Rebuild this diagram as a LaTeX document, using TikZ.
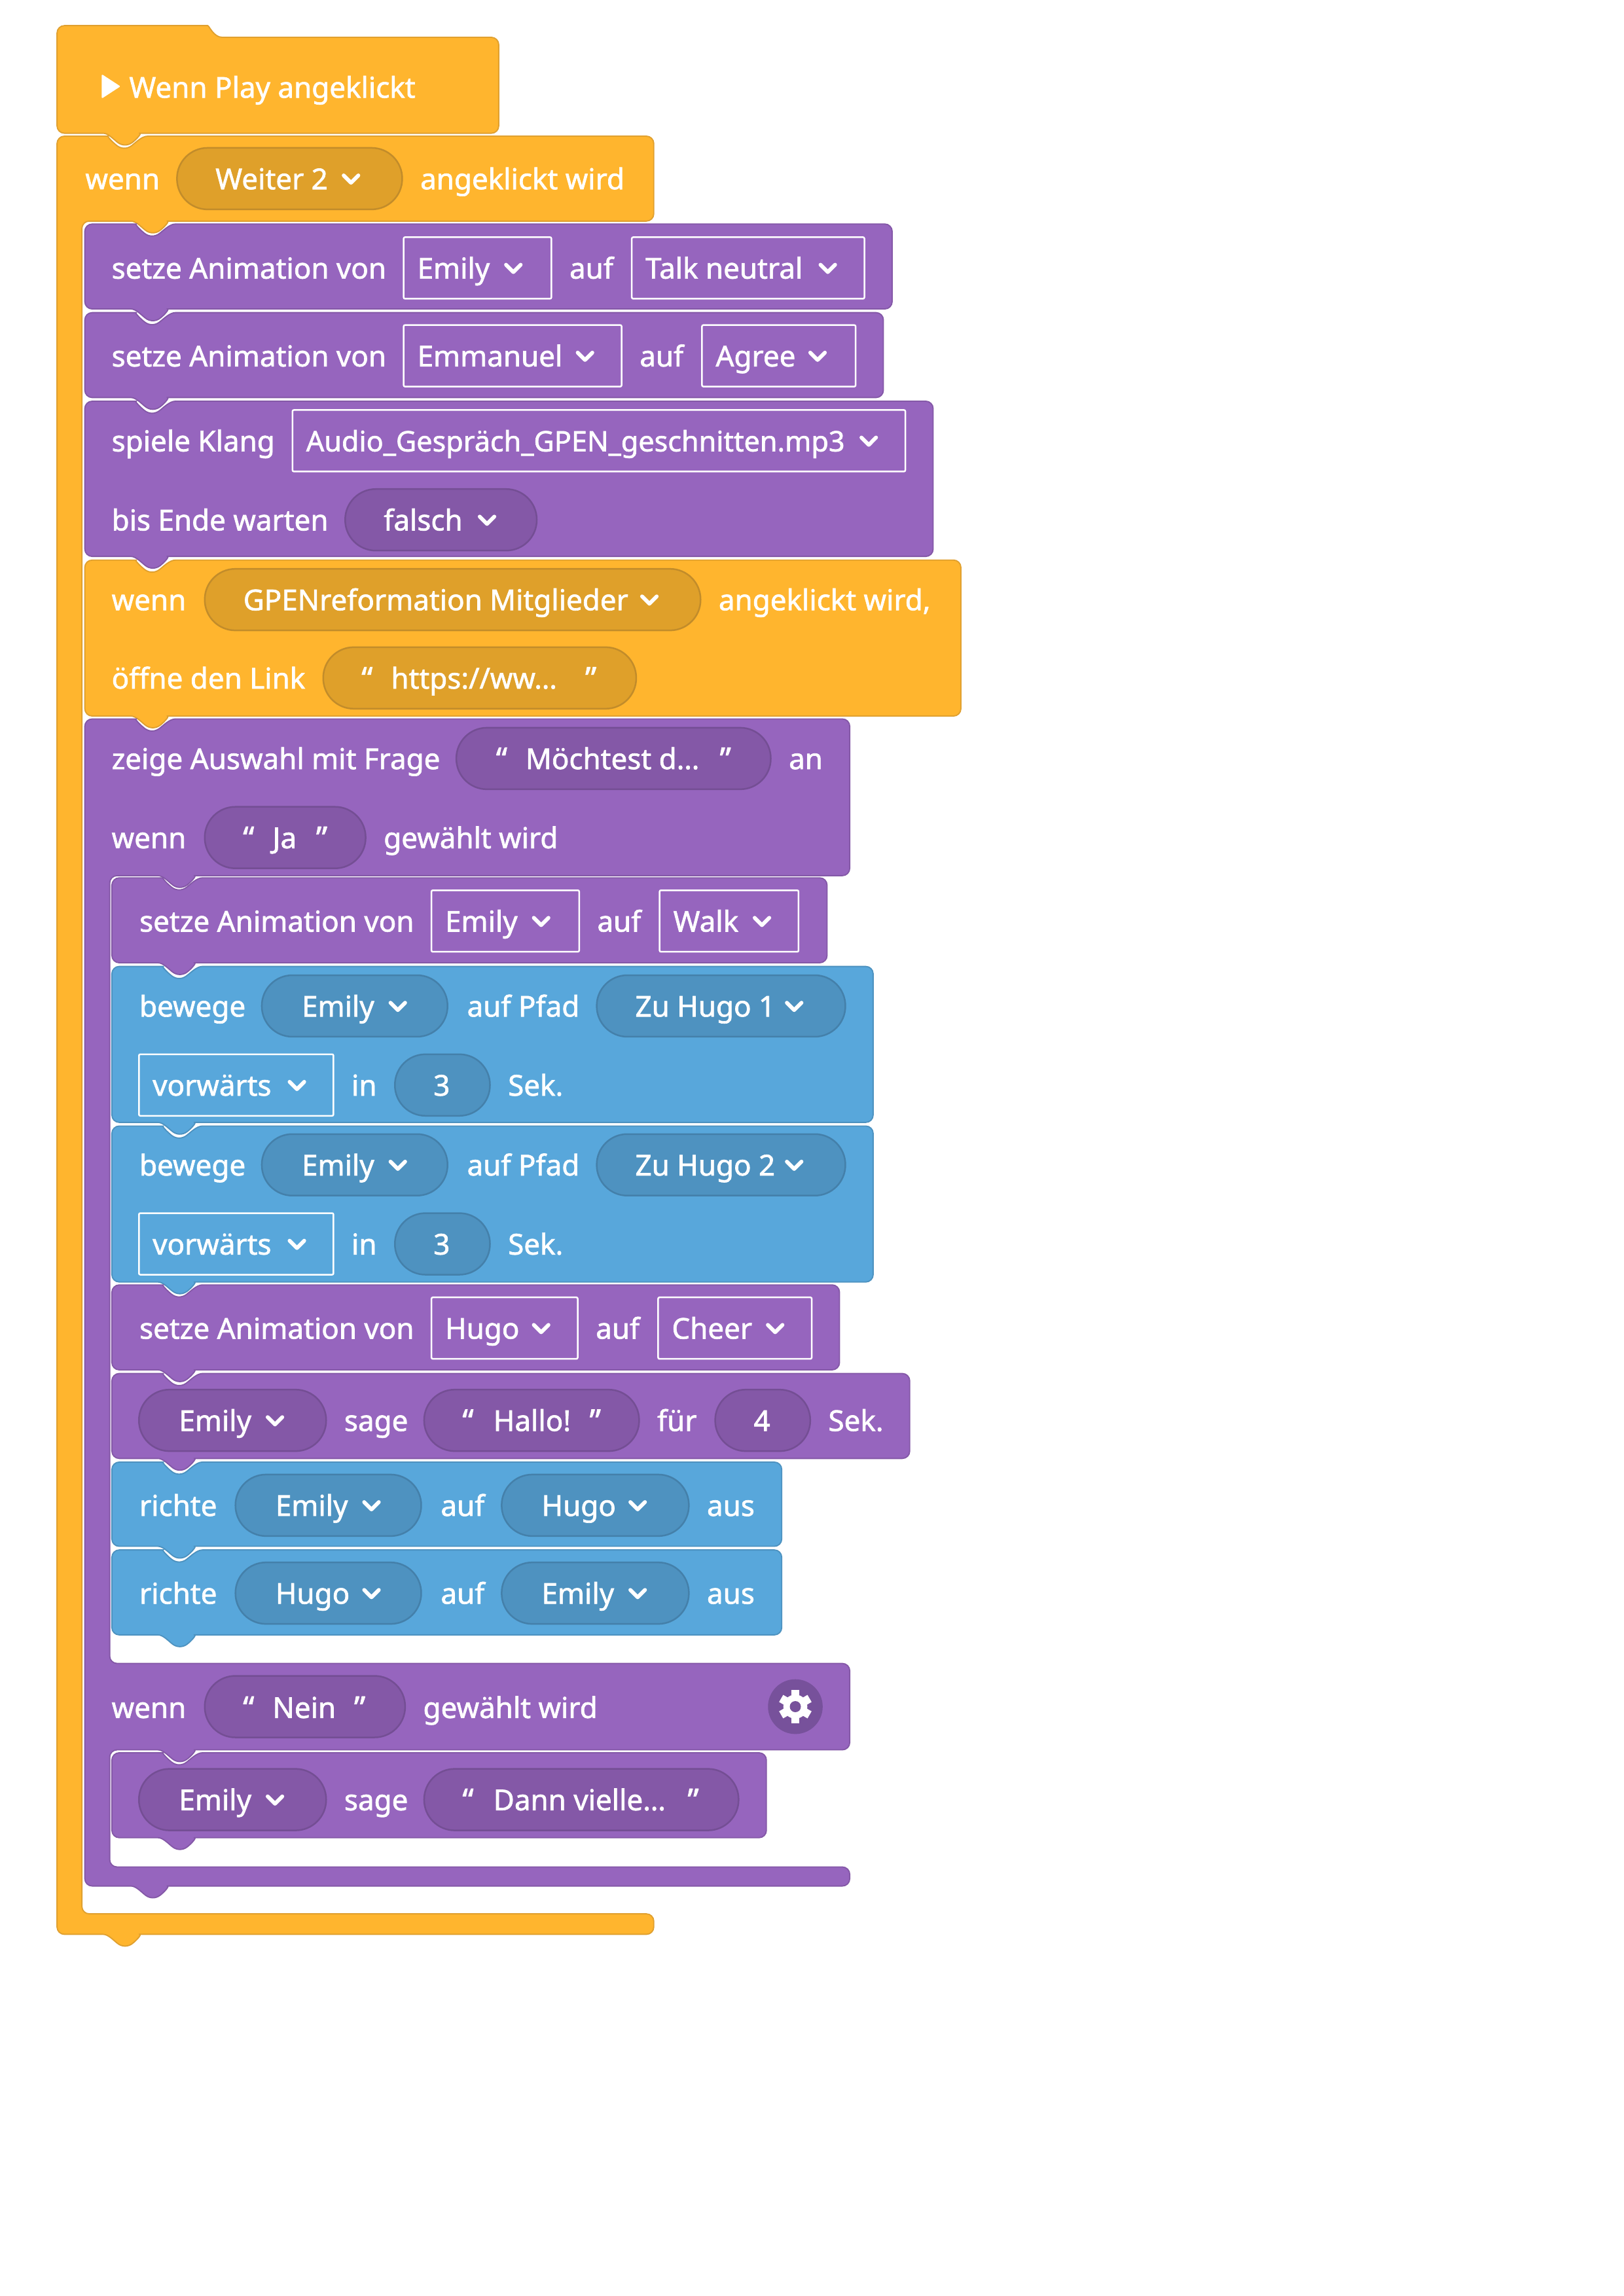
\documentclass[tikz,border=0pt]{standalone}
\usepackage{fontspec}
\setmainfont[FakeBold=1.5]{Noto Sans}
\definecolor{hatY}{HTML}{FFB52E}
\definecolor{hatYd}{HTML}{E0A02F}
\definecolor{pillYf}{HTML}{DFA02A}
\definecolor{pillYd}{HTML}{C28C2A}
\definecolor{blkP}{HTML}{9665BE}
\definecolor{blkPd}{HTML}{8458A7}
\definecolor{pillPf}{HTML}{8458A7}
\definecolor{pillPd}{HTML}{744E94}
\definecolor{blkB}{HTML}{58A7DB}
\definecolor{blkBd}{HTML}{4D92C0}
\definecolor{pillBf}{HTML}{4E92C0}
\definecolor{pillBd}{HTML}{4480AA}
\definecolor{gearbg}{HTML}{77519B}
\tikzset{
  yellowblk/.style={fill=hatY,draw=hatYd,line width=0.45pt,rounded corners=2.7pt},
  purpleblk/.style={fill=blkP,draw=blkPd,line width=0.45pt,rounded corners=2.7pt},
  blueblk/.style={fill=blkB,draw=blkBd,line width=0.45pt,rounded corners=2.7pt},
  pillY/.style={fill=pillYf,draw=pillYd,line width=0.6pt,rounded corners=11.2pt},
  pillP/.style={fill=pillPf,draw=pillPd,line width=0.6pt,rounded corners=11.2pt},
  pillB/.style={fill=pillBf,draw=pillBd,line width=0.6pt,rounded corners=11.2pt},
  fieldbox/.style={draw=white,line width=0.6pt,rounded corners=0.5pt},
  chev/.style={draw=white,line width=1.4pt,line cap=round,line join=round},
  lbl/.style={anchor=base west,inner sep=0pt,text=white,font=\fontsize{10.55}{12}\selectfont,yshift=-3.9pt},
  quo/.style={anchor=base,inner sep=0pt,text=white,font=\fontsize{11.5}{12}\selectfont,yshift=-4.2pt}
}
% Kerbe oben (nach rechts) und Nase unten (nach links)
\def\notchR{[sharp corners] .. controls +(4,0) and +(-3,-2.3) .. ++(11,6.5) .. controls +(3,2.3) and +(-3,2.3) .. ++(10,0) .. controls +(3,-2.3) and +(-4,0) .. ++(11,-6.5) -- ++(0.5,0) [rounded corners=2.7pt]}
\def\notchL{[sharp corners] .. controls +(-3.5,0) and +(3,-2.3) .. ++(-10,6.3) .. controls +(-3,2.3) and +(3,2.3) .. ++(-10,0) .. controls +(-3,-2.3) and +(3.5,0) .. ++(-10,-6.3) -- ++(-0.5,0) [rounded corners=2.7pt]}
\newcommand{\stackblk}[5]{%
  \draw[#1] (#2,{#3+20}) -- (#2,#3) -- ({#2+30},#3) \notchR -- (#4,#3) -- (#4,#5) -- ({#2+61.5},#5) \notchL -- (#2,#5) -- cycle;}
\begin{document}
\begin{tikzpicture}[x=0.5363pt,y=-0.537pt]
  \useasboundingbox (0,0) rectangle (1110,1568);
  % Startblock
  \draw[yellowblk] (39,50) -- (39,17.5) -- (137,17.5) [sharp corners] .. controls +(6,0) and +(-6,0) .. (152,25.5) -- ++(0.5,0) [rounded corners=2.7pt] -- (341,25.5) -- (341,91) -- (100.5,91) \notchL -- (39,91) -- cycle;
  \draw[fill=white,draw=white,line join=round,line width=0.5pt] (70,51.5) -- (81.5,59) -- (70,66.5) -- cycle;
  % aeussere Klammer
  \draw[yellowblk] (39,120) -- (39,93) -- (69,93) \notchR -- (447,93) -- (447,151) -- (119.5,151) \notchL -- (56,151) -- (56,1307) -- (447,1307) -- (447,1321) -- (100.5,1321) \notchL -- (39,1321) -- cycle;
  % Stapel
  \stackblk{purpleblk}{58}{153}{610}{211}
  \stackblk{purpleblk}{58}{213.5}{604}{271.5}
  \stackblk{purpleblk}{58}{274}{638}{380}
  \stackblk{yellowblk}{58}{382.5}{657}{489}
  % Auswahl mit zwei Armen
  \draw[purpleblk] (58,520) -- (58,491) -- (88,491) \notchR -- (581,491) -- (581,598) -- (138,598) \notchL -- (75,598) -- (75,1136) -- (581,1136) -- (581,1195) -- (138,1195) \notchL -- (75,1195) -- (75,1275) -- (581,1275) -- (581,1288) -- (119.5,1288) \notchL -- (58,1288) -- cycle;
  \stackblk{purpleblk}{76.5}{599.5}{565.5}{657.5}
  \stackblk{blueblk}{76.5}{660}{597}{766.5}
  \stackblk{blueblk}{76.5}{769}{597}{875.5}
  \stackblk{purpleblk}{76.5}{877.5}{574}{935.5}
  \stackblk{purpleblk}{76.5}{938}{622}{996}
  \stackblk{blueblk}{76.5}{998.5}{534.5}{1056}
  \stackblk{blueblk}{76.5}{1058.5}{534.5}{1116.5}
  \stackblk{purpleblk}{76.5}{1197}{524}{1255}
  % Felder
  \foreach \a/\b/\y in {121/275/122, 140/479/409.5, 221/435/463}
    \draw[pillY] (\a,\y-21) rectangle (\b,\y+21);
  \foreach \a/\b/\y in {236/367/355, 312/527/518, 140/250/572, 95/223/970, 290/437/970, 489/554/970, 140/277/1165.5, 95/223/1229, 290/505/1229}
    \draw[pillP] (\a,\y-21) rectangle (\b,\y+21);
  \foreach \a/\b/\y in {179/306/687, 408/578/687, 270/335/741, 179/306/795.5, 408/578/795.5, 270/335/849.5, 161/288/1028, 343/471/1028, 161/288/1088, 343/471/1088}
    \draw[pillB] (\a,\y-21) rectangle (\b,\y+21);
  \foreach \a/\b/\y in {276/377/183, 432/591/183, 276/425/243, 480/585/243, 200/619/301, 295/396/629, 451/546/629, 95/228/741, 95/228/849.5, 295/395/907, 450/555/907}
    \draw[fieldbox] (\a,\y-21) rectangle (\b,\y+21);
  % Pfeilchen
  \foreach \x/\y in {240/122, 351/183, 566/183, 400/243, 559/243, 594/301, 333/355, 444/409.5, 370/629, 521/629, 272/687, 543/687, 203/741, 272/795.5, 543/795.5, 203/849.5, 370/907, 530/907, 188/970, 254/1028, 436/1028, 254/1088, 436/1088, 188/1229}
    \draw[chev] (\x,\y) ++(-5,-2.2) -- ++(5,5) -- ++(5,-5);
  % Texte
  \foreach \x/\y/\txt [count=\i] in {88/59.5/Wenn Play angeklickt, 58/122/wenn, 147/122/Weiter 2, 287/122/angeklickt wird,
    76/183/setze Animation von, 285/183/Emily, 389/183/auf, 441/183/Talk neutral,
    76/243/setze Animation von, 285/243/Emmanuel, 437/243/auf, 489/243/Agree,
    76/301/spiele Klang, 209/301/{\fontsize{10.35}{12}\selectfont Audio\_Gespräch\_GPEN\_geschnitten.mp3}, 76/355/bis Ende warten, 262/355/falsch,
    76/409.5/wenn, 166/409.5/GPENreformation Mitglieder, 491/409.5/{angeklickt wird,}, 76/463/öffne den Link, 267/463/{https://ww…},
    76/518/zeige Auswahl mit Frage, 359/518/Möchtest d…, 539/518/an, 76/572/wenn, 186/572/Ja, 262/572/gewählt wird,
    95/629/setze Animation von, 304/629/Emily, 408/629/auf, 460/629/Walk,
    95/687/bewege, 206/687/Emily, 319/687/auf Pfad, 434/687/Zu Hugo 1, 104/741/vorwärts, 240/741/in, 296/741/3, 347/741/Sek.,
    95/795.5/bewege, 206/795.5/Emily, 319/795.5/auf Pfad, 434/795.5/Zu Hugo 2, 104/849.5/vorwärts, 240/849.5/in, 296/849.5/3, 347/849.5/Sek.,
    95/907/setze Animation von, 304/907/Hugo, 407/907/auf, 459/907/Cheer,
    122/970/Emily, 235/970/sage, 337/970/Hallo!, 449/970/für, 515/970/4, 566/970/Sek.,
    95/1028/richte, 188/1028/Emily, 301/1028/auf, 370/1028/Hugo, 483/1028/aus,
    95/1088/richte, 188/1088/Hugo, 301/1088/auf, 370/1088/Emily, 483/1088/aus,
    76/1166/wenn, 186/1166/Nein, 289/1166/gewählt wird,
    122/1229/Emily, 235/1229/sage, 337/1229/Dann vielle…}
    \node[lbl] (lbl\i) at (\x,\y) {\txt};
  % Anfuehrungszeichen
  \foreach \x/\y/\txt [count=\i] in {251/463/“, 404/463/”, 343/518/“, 496/518/”, 170/572/“, 220/572/”, 320/970/“, 407/970/”, 170/1166/“, 246/1166/”, 320/1229/“, 474/1229/”}
    \node[quo] (quo\i) at (\x,\y) {\txt};
  % Zahnrad
  \fill[gearbg] (543.8,1165.5) circle (18.7);
  \foreach \w in {0,60,...,300}
    \fill[white,rotate around={\w:(543.8,1165.5)}] (541,1154.3) rectangle (546.6,1160);
  \fill[white] (543.8,1165.5) circle (8.2);
  \fill[gearbg] (543.8,1165.5) circle (3.8);
\end{tikzpicture}
\end{document}
